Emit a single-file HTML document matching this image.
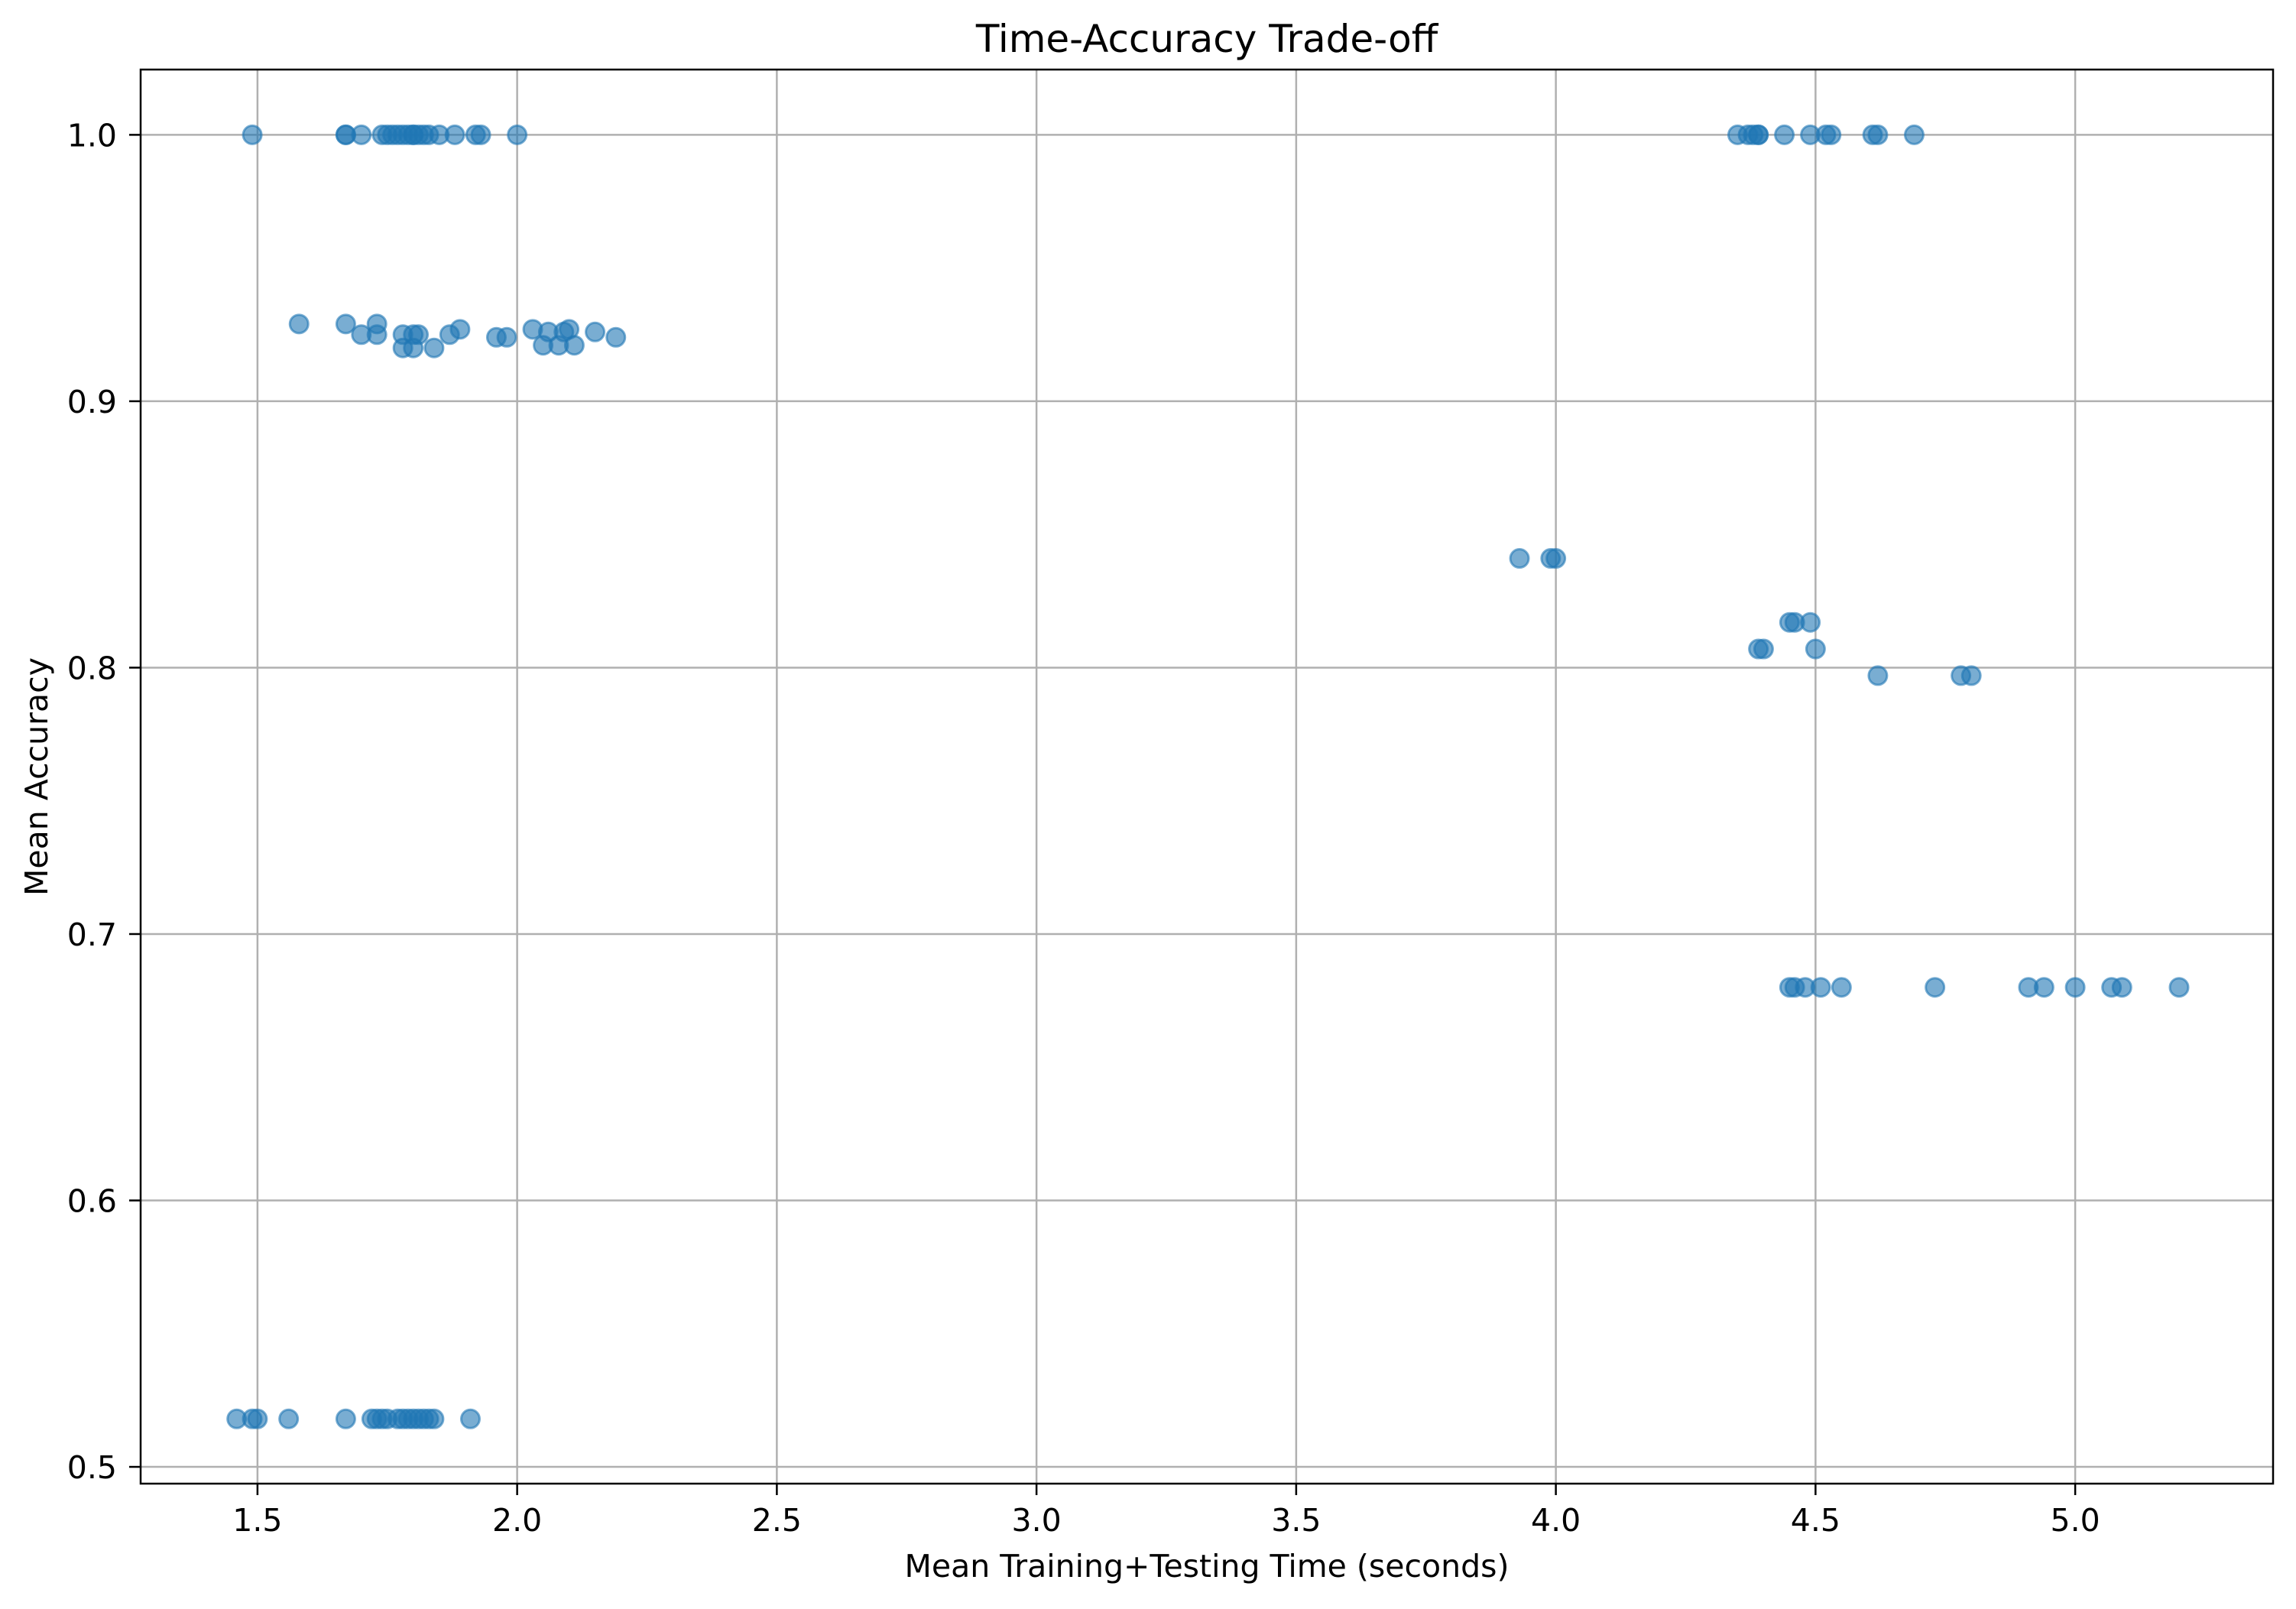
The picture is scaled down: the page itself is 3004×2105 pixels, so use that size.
<!DOCTYPE html>
<html><head><meta charset="utf-8"><style>
html,body{margin:0;padding:0;background:#fff;}
svg text{font-family:"DejaVu Sans","Liberation Sans",sans-serif;fill:#000;}
</style></head><body>
<svg id="chart" width="3004" height="2100" xmlns="http://www.w3.org/2000/svg">
<rect width="3004" height="2100" fill="#fff"/>
<g id="grid"></g><g id="pts"></g><g id="axes"></g>
</svg>
<script>
const xs1=[1.49,1.67,1.67,1.70,1.74,1.75,1.76,1.77,1.78,1.79,1.80,1.80,1.81,1.82,1.83,1.85,1.88,1.92,1.93,2.00,4.35,4.37,4.38,4.39,4.39,4.44,4.49,4.52,4.53,4.61,4.62,4.69];
const ys1=xs1.map(()=>1.0);
const xs2=[1.58,1.67,1.70,1.73,1.73,1.78,1.78,1.80,1.80,1.81,1.84,1.87,1.89,1.96,1.98,2.03,2.05,2.06,2.08,2.09,2.10,2.11,2.15,2.19];
const ys2=[0.929,0.929,0.925,0.929,0.925,0.925,0.920,0.925,0.920,0.925,0.920,0.925,0.927,0.924,0.924,0.927,0.921,0.926,0.921,0.926,0.927,0.921,0.926,0.924];
const xs3=[3.93,3.99,4.00,4.45,4.46,4.49,4.39,4.40,4.50,4.62,4.78,4.80];
const ys3=[0.841,0.841,0.841,0.817,0.817,0.817,0.807,0.807,0.807,0.797,0.797,0.797];
const xs4=[4.45,4.46,4.48,4.51,4.55,4.73,4.91,4.94,5.00,5.07,5.09,5.20,1.46,1.49,1.50,1.56,1.67,1.72,1.73,1.74,1.75,1.77,1.78,1.79,1.80,1.81,1.82,1.83,1.84,1.91];
const ys4=[0.680,0.680,0.680,0.680,0.680,0.680,0.680,0.680,0.680,0.680,0.680,0.680,0.518,0.518,0.518,0.518,0.518,0.518,0.518,0.518,0.518,0.518,0.518,0.518,0.518,0.518,0.518,0.518,0.518,0.518];
const xTicks=[1.5,2.0,2.5,3.0,3.5,4.0,4.5,5.0];
const yTicks=[0.5,0.6,0.7,0.8,0.9,1.0];
const L=184,R=2974,T=91,B=1941;
const x0=1.275,x1=5.381,y0=0.4937,y1=1.0245;
const X=v=>L+(v-x0)/(x1-x0)*(R-L);
const Y=v=>B-(v-y0)/(y1-y0)*(B-T);
const NS="http://www.w3.org/2000/svg";
function mk(tag,parent,attrs){const e=document.createElementNS(NS,tag);for(const k in attrs)e.setAttribute(k,attrs[k]);parent.appendChild(e);return e;}
const grid=document.getElementById('grid'),pts=document.getElementById('pts'),axes=document.getElementById('axes');
xTicks.forEach(t=>{
 const g=mk('line',grid,{x1:X(t),x2:X(t),y1:T,y2:B,stroke:'#b0b0b0','stroke-width':2.5});
 
 
 mk('line',axes,{x1:X(t),x2:X(t),y1:B,y2:B+15,stroke:'#000','stroke-width':2.5});
 const tx=mk('text',axes,{x:X(t),y:2003,'text-anchor':'middle','font-size':41});
 tx.textContent=t.toFixed(1);
 
 
});
yTicks.forEach(t=>{
 const g=mk('line',grid,{x1:L,x2:R,y1:Y(t),y2:Y(t),stroke:'#b0b0b0','stroke-width':2.5});
 
 
 mk('line',axes,{x1:L-15,x2:L,y1:Y(t),y2:Y(t),stroke:'#000','stroke-width':2.5});
 const tx=mk('text',axes,{x:153,y:Y(t)+15,'text-anchor':'end','font-size':41});
 tx.textContent=t.toFixed(1);
 
 
});
[[xs1,ys1],[xs2,ys2],[xs3,ys3],[xs4,ys4]].forEach(([xa,ya])=>{
 xa.forEach((v,i)=>{
  const c=mk('circle',pts,{cx:X(v),cy:Y(ya[i]),r:12,fill:'#1f77b4','fill-opacity':0.6,stroke:'#1f77b4','stroke-opacity':0.6,'stroke-width':3});
  
  
 });
});
const fr=mk('rect',axes,{x:L,y:T,width:R-L,height:B-T,fill:'none',stroke:'#000','stroke-width':2.5});


const ti=mk('text',axes,{x:(L+R)/2,y:68,'text-anchor':'middle','font-size':50});
ti.textContent='Time-Accuracy Trade-off';


const xl=mk('text',axes,{x:(L+R)/2,y:2063,'text-anchor':'middle','font-size':41});
xl.textContent='Mean Training+Testing Time (seconds)';


const yl=mk('text',axes,{x:0,y:0,'text-anchor':'middle','font-size':41,transform:'translate(62,'+((T+B)/2)+') rotate(-90)'});
yl.textContent='Mean Accuracy';


</script>
</body></html>
